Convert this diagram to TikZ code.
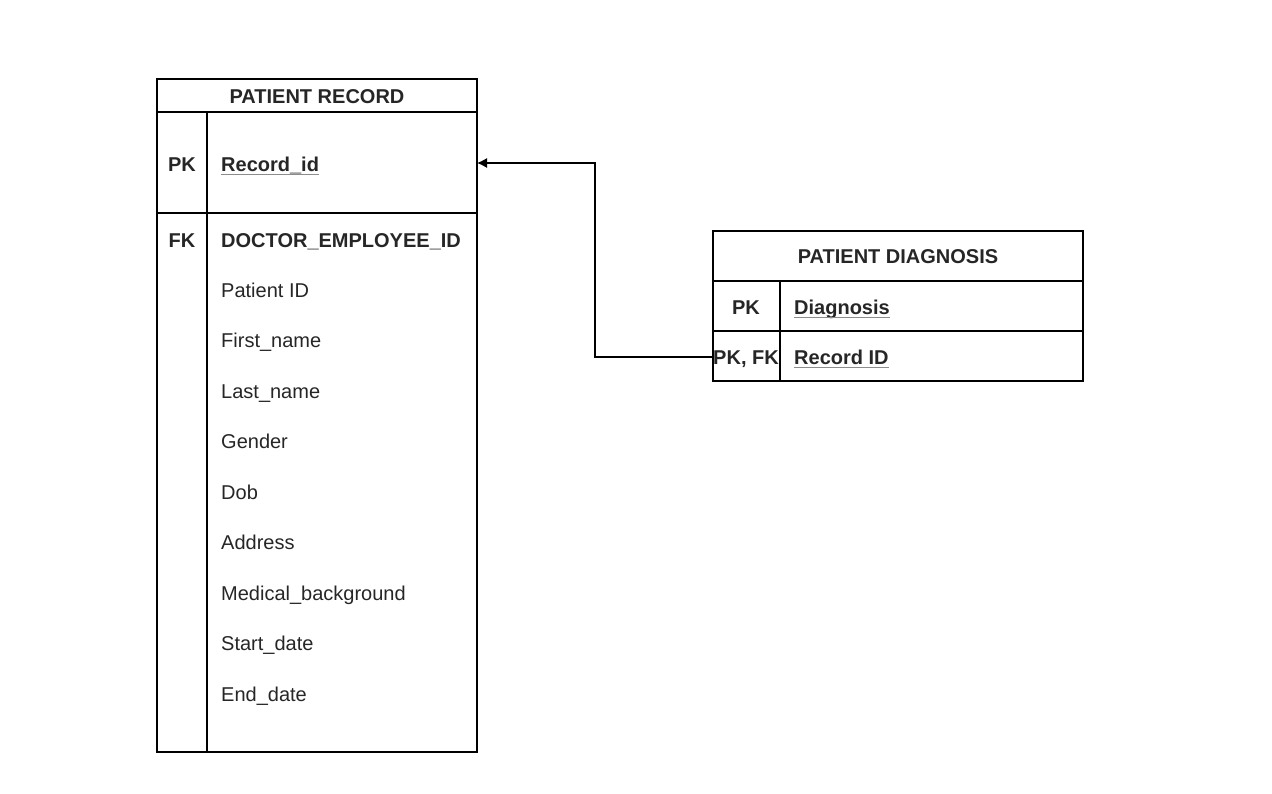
\documentclass[tikz,border=0pt]{standalone}
\usepackage{fontspec}
\setmainfont{Liberation Sans}
\usetikzlibrary{arrows.meta}
\begin{document}
\begin{tikzpicture}[x=1pt,y=-1pt,
  box/.style={draw=black,line width=1.2pt},
  txt/.style={anchor=base west,inner sep=0pt,font=\fontsize{20}{23}\selectfont,text=black!85},
  btxt/.style={txt,font=\fontsize{20}{23}\selectfont\bfseries},
  key/.style={anchor=base,inner sep=0pt,font=\fontsize{20}{23}\selectfont\bfseries,text=black!85},
  ul/.style={draw=black!45,line width=1pt},
  conn/.style={draw=black,line width=1.2pt,-{Latex[length=10pt,width=10pt]}}]
\useasboundingbox (0,0) rectangle (1272,793);
% Patient record table
\draw[box] (157,79) rectangle (477,752);
\draw[box] (157,112) -- (477,112);
\draw[box] (157,213) -- (477,213);
\draw[box] (207,112) -- (207,752);
\node[key] (prt) at (317,103) {PATIENT RECORD};
\node[key] (pk1) at (182,171) {PK};
\node[btxt] (rid) at (221,171) {Record\_id};
\draw[ul] ([yshift=-3pt]rid.base west) -- ([yshift=-3pt]rid.base east);
\node[key] (fk1) at (182,247) {FK};
\node[btxt] (doc) at (221,247) {DOCTOR\_EMPLOYEE\_ID};
\node[txt] (f1) at (221,297) {Patient ID};
\node[txt] (f2) at (221,347) {First\_name};
\node[txt] (f3) at (221,398) {Last\_name};
\node[txt] (f4) at (221,448) {Gender};
\node[txt] (f5) at (221,499) {Dob};
\node[txt] (f6) at (221,549) {Address};
\node[txt] (f7) at (221,600) {Medical\_background};
\node[txt] (f8) at (221,650) {Start\_date};
\node[txt] (f9) at (221,701) {End\_date};
% Patient diagnosis table
\draw[box] (713,231) rectangle (1083,381);
\draw[box] (713,281) -- (1083,281);
\draw[box] (713,331) -- (1083,331);
\draw[box] (780,281) -- (780,381);
\node[key] (pdt) at (898,263) {PATIENT DIAGNOSIS};
\node[key] (pk2) at (746,314) {PK};
\node[btxt] (dia) at (794,314) {Diagnosis};
\draw[ul] ([yshift=-3pt]dia.base west) -- ([yshift=-3pt]dia.base east);
\node[key] (pkfk) at (746,364) {PK, FK};
\node[btxt] (rid2) at (794,364) {Record ID};
\draw[ul] ([yshift=-3pt]rid2.base west) -- ([yshift=-3pt]rid2.base east);
% connector
\coordinate (cstart) at (713,357);
\coordinate (cend) at (477,163);
\draw[conn] (cstart) -- (595,357) -- (595,163) -- (cend);
\end{tikzpicture}
\end{document}
